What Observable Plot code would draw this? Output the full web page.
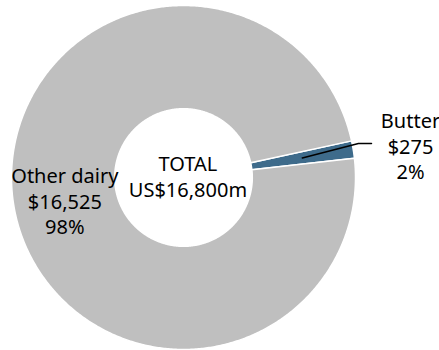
<!DOCTYPE html>
<html><head><meta charset="utf-8">
<script src="https://cdn.jsdelivr.net/npm/d3@7"></script>
<script src="https://cdn.jsdelivr.net/npm/@observablehq/plot@0.6"></script>
<style>body{margin:0;background:#fff}</style>
</head><body><div id="chart"></div>
<script>
const categories = ["Butter", "Other dairy"];
const values = [275, 16525];
const valueLabels = ["$275", "$16,525"];
const shareLabels = ["2%", "98%"];
const totalLabel = ["TOTAL", "US$16,800m"];
const colors = ["#3e6b8b", "#bfbfbf"];

const start = 77.7 * Math.PI / 180;
const rows = categories.map((c, i) => ({name: c, value: values[i], color: colors[i]}));
const arcs = d3.pie().sort(null).value(d => d.value).startAngle(start).endAngle(start + 2 * Math.PI)(rows);
const R0 = 0.40, R1 = 1;
const pts = [];
for (const a of arcs) {
  const n = Math.max(4, Math.ceil((a.endAngle - a.startAngle) / (Math.PI / 360)));
  for (let k = 0; k <= n; k++) {
    const t = a.startAngle + (a.endAngle - a.startAngle) * k / n;
    pts.push({name: a.data.name, color: a.data.color, x: R1 * Math.sin(t), y: R1 * Math.cos(t)});
  }
  for (let k = n; k >= 0; k--) {
    const t = a.startAngle + (a.endAngle - a.startAngle) * k / n;
    pts.push({name: a.data.name, color: a.data.color, x: R0 * Math.sin(t), y: R0 * Math.cos(t)});
  }
}
const b = arcs[0];
const mid = (b.startAngle + b.endAngle) / 2;
const leader = [
  {x: 0.70 * Math.sin(mid), y: 0.70 * Math.cos(mid)},
  {x: 1.017, y: 0.198},
  {x: 1.093, y: 0.198}
];
const labels = [
  {x: 1.32, y: 0.186, text: [categories[0], valueLabels[0], shareLabels[0]].join("\n")},
  {x: -0.69, y: -0.134, text: [categories[1], valueLabels[1], shareLabels[1]].join("\n")},
  {x: 0.026, y: 0.009, text: totalLabel.join("\n")}
];

const chart = Plot.plot({
  width: 439, height: 350, margin: 0,
  style: {background: "white"},
  x: {domain: [-1, 1], range: [11, 355], axis: null},
  y: {domain: [-1, 1], range: [349, 5], axis: null},
  marks: [
    Plot.line(pts, {x: "x", y: "y", z: "name", fill: "color", stroke: "white", strokeWidth: 1.5, curve: "linear-closed"}),
    Plot.line(leader, {x: "x", y: "y", stroke: "black", strokeWidth: 1.5}),
    Plot.text(labels, {x: "x", y: "y", text: "text", textAnchor: "middle", lineAnchor: "middle", lineHeight: 1.275, fontSize: 20, fill: "black", fontFamily: "Noto Sans"})
  ]
});
document.getElementById("chart").append(chart);
</script>
</body></html>
